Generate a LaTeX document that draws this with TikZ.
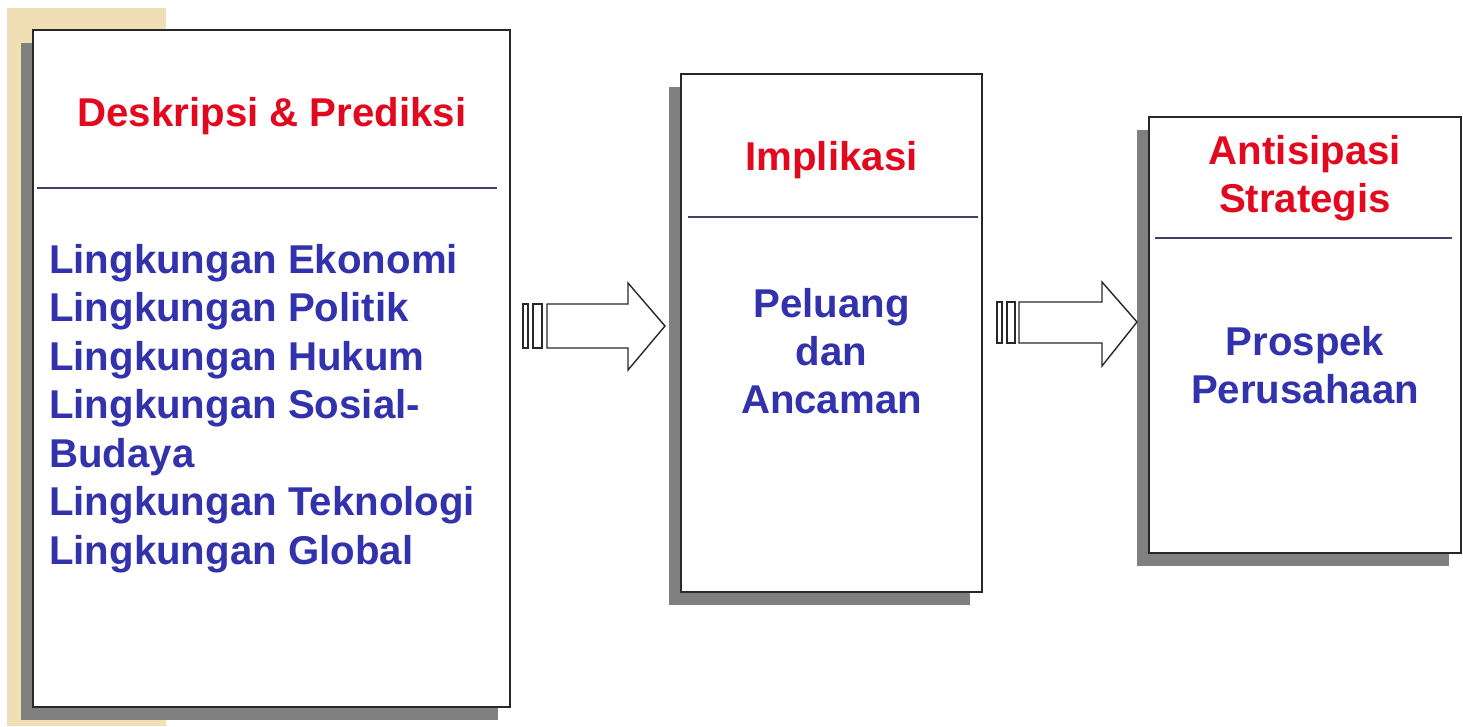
\documentclass[tikz,border=0pt]{standalone}
\usepackage{fontspec}
\setmainfont{Liberation Sans}
\usetikzlibrary{shadows}
\definecolor{titlered}{RGB}{226,8,30}
\definecolor{itemblue}{RGB}{50,50,172}
\definecolor{rulecol}{RGB}{64,64,110}
\definecolor{shadowgray}{RGB}{128,128,128}
\definecolor{beige}{RGB}{240,223,180}
\definecolor{framecol}{RGB}{40,40,40}
\tikzset{
  panel/.style={draw=framecol, line width=1.8pt, fill=white, inner sep=0pt,
    drop shadow={shadow xshift=-12pt, shadow yshift=-13pt, fill=shadowgray, opacity=1}},
  headtext/.style={anchor=base, inner sep=0pt, text=titlered,
    font=\fontsize{40.2}{48}\selectfont\bfseries},
  bodytext/.style={anchor=base, inner sep=0pt, text=itemblue,
    font=\fontsize{40.2}{48}\selectfont\bfseries},
  itemtext/.style={bodytext, anchor=base west},
  rule/.style={draw=rulecol, line width=1.8pt},
  blockarrow/.style={draw=framecol, line width=1.4pt, fill=white, line join=miter},
}
\begin{document}
\begin{tikzpicture}[x=1pt,y=-1pt]
\useasboundingbox (0,0) rectangle (1463,726);
\fill[white] (0,0) rectangle (1463,726);
% beige strip on the left edge
\fill[beige] (7,8) rectangle (166,726);

% the three panels
\node[panel, minimum width=477pt, minimum height=677pt] (b1) at (271.5,368.5) {};
\node[panel, minimum width=301pt, minimum height=518pt] (b2) at (831.5,333) {};
\node[panel, minimum width=312pt, minimum height=436pt] (b3) at (1305,335) {};

% panel 1: description and prediction
\node[headtext] (t1) at (272,126) {Deskripsi \& Prediksi};
\draw[rule] (37,188) -- (497,188);
\node[itemtext] (i1) at (49,273) {Lingkungan Ekonomi};
\node[itemtext] (i2) at (49,321.5) {Lingkungan Politik};
\node[itemtext] (i3) at (49,370) {Lingkungan Hukum};
\node[itemtext] (i4) at (49,418.5) {Lingkungan Sosial-};
\node[itemtext] (i5) at (49,467) {Budaya};
\node[itemtext] (i6) at (49,515.5) {Lingkungan Teknologi};
\node[itemtext] (i7) at (49,564) {Lingkungan Global};

% panel 2: implications
\node[headtext] (t2) at (831.5,170) {Implikasi};
\draw[rule] (688,217) -- (978,217);
\node[bodytext] (p1) at (831.5,317) {Peluang};
\node[bodytext] (p2) at (831.5,365) {dan};
\node[bodytext] (p3) at (831.5,413) {Ancaman};

% panel 3: strategic anticipation
\node[headtext] (t3a) at (1305,164) {Antisipasi};
\node[headtext] (t3b) at (1305,212) {Strategis};
\draw[rule] (1155,238) -- (1452,238);
\node[bodytext] (q1) at (1305,355) {Prospek};
\node[bodytext] (q2) at (1305,403) {Perusahaan};

% striped block arrow from panel 1 to panel 2
\draw[blockarrow] (523,304) rectangle (528,348);
\draw[blockarrow] (533,304) rectangle (542,348);
\draw[blockarrow] (547,304) -- (628,304) -- (628,283) -- (665,326)
  -- (628,370) -- (628,348) -- (547,348) -- cycle;

% striped block arrow from panel 2 to panel 3
\draw[blockarrow] (997,302) rectangle (1002,343);
\draw[blockarrow] (1007,302) rectangle (1015,343);
\draw[blockarrow] (1019,302) -- (1102,302) -- (1102,282) -- (1137,322)
  -- (1102,366) -- (1102,343) -- (1019,343) -- cycle;
\end{tikzpicture}
\end{document}
